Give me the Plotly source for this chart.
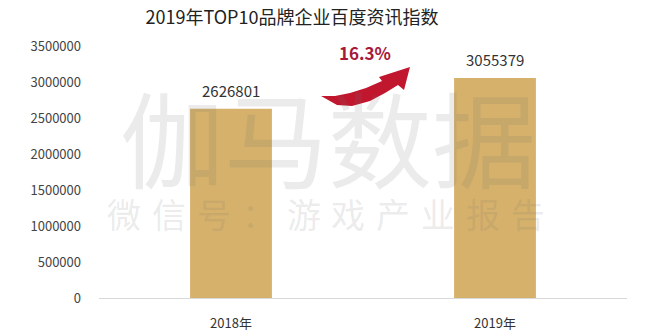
import plotly.graph_objects as go

# Data
years = ["2018年", "2019年"]
index_values = [2626801, 3055379]
y_ticks = [0, 500000, 1000000, 1500000, 2000000, 2500000, 3000000, 3500000]

title_text = "2019年TOP10品牌企业百度资讯指数"
watermark_main = "伽马数据"
watermark_sub = "微信号：游戏产业报告"

growth = (index_values[1] / index_values[0] - 1) * 100

W, H = 650, 334
M_L, M_R, M_T, M_B = 99, 23, 46, 36
PW, PH = W - M_L - M_R, H - M_T - M_B


def px(x, y):
    """Pixel position in the page -> paper coordinates."""
    return (x - M_L) / PW, (H - M_B - y) / PH


FONT = "Noto Sans CJK SC"
BAR_COLOR = "#D6B16B"

fig = go.Figure()
fig.add_trace(go.Bar(
    x=years,
    y=index_values,
    width=0.31,
    marker=dict(color=BAR_COLOR, line=dict(width=0)),
    cliponaxis=False,
))

annotations = []
# Value labels above each bar
for yr, v in zip(years, index_values):
    annotations.append(dict(
        text=str(v), x=yr, y=v, xref="x", yref="y",
        showarrow=False, yanchor="bottom", xanchor="center", yshift=6,
        font=dict(family=FONT, size=15, color="#333333"),
    ))

# Large faint watermark
wx, wy = px(328, 135)
annotations.append(dict(
    text=watermark_main, x=wx, y=wy, xref="paper", yref="paper",
    showarrow=False, font=dict(family=FONT, size=104, color="rgba(110,110,110,0.14)"),
    xanchor="center", yanchor="middle",
))
# Spaced sub watermark
n = len(watermark_sub)
for i, ch in enumerate(watermark_sub):
    cx, cy = px(124 + i * (528 - 124) / (n - 1), 213)
    annotations.append(dict(
        text=ch, x=cx, y=cy, xref="paper", yref="paper",
        showarrow=False, font=dict(family=FONT, size=34, color="rgba(110,110,110,0.14)"),
        xanchor="center", yanchor="middle",
    ))

# Growth label
gx, gy = px(365, 52)
annotations.append(dict(
    text=f"<b>{growth:.1f}%</b>", x=gx, y=gy, xref="paper", yref="paper",
    showarrow=False, font=dict(family=FONT, size=17, color="#A8183A"),
    xanchor="center", yanchor="middle",
))

# Curved growth arrow
pts_top = [(321, 96), (335, 96), (350, 93), (366, 88), (382, 81)]
pts_head = [(379, 77), (410, 67), (404, 90), (398, 85)]
pts_bot = [(385, 93), (370, 101), (352, 106), (337, 105), (321, 96)]


def path_of(points):
    parts = []
    for k, (x, y) in enumerate(points):
        u, v = px(x, y)
        parts.append(("M" if k == 0 else "L") + f"{u:.4f},{v:.4f}")
    return " ".join(parts) + " Z"


arrow_path = path_of(pts_top + pts_head + pts_bot)

fig.update_layout(
    width=W, height=H,
    margin=dict(l=M_L, r=M_R, t=M_T, b=M_B),
    paper_bgcolor="white",
    plot_bgcolor="white",
    showlegend=False,
    title=dict(
        text=title_text, x=292 / W, xref="container", xanchor="center",
        y=1 - 18 / H, yref="container", yanchor="middle",
        font=dict(family=FONT, size=18, color="#222222"),
        automargin=False,
    ),
    xaxis=dict(
        showgrid=False, showline=True, linecolor="#d9d9d9", linewidth=1,
        ticks="", tickfont=dict(family=FONT, size=13, color="#333333"),
        ticklabelstandoff=13, automargin=False,
    ),
    yaxis=dict(
        range=[0, 3500000], tickvals=y_ticks, ticktext=[str(v) for v in y_ticks],
        showgrid=False, zeroline=False, showline=False, ticks="",
        tickfont=dict(family=FONT, size=13, color="#444444"),
        ticklabelstandoff=17, automargin=False,
    ),
    annotations=annotations,
    shapes=[dict(type="path", path=arrow_path, xref="paper", yref="paper",
                 fillcolor="#C0172F", line=dict(width=0))],
)

fig.write_html("out.html")
